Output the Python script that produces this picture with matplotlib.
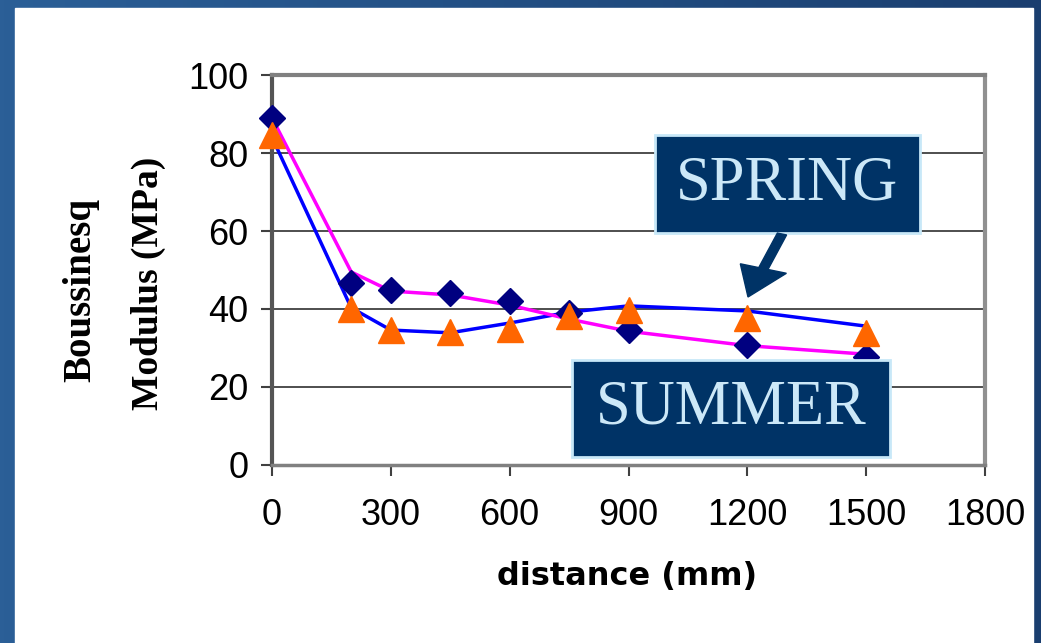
"""Boussinesq modulus vs distance, spring / summer."""
import matplotlib
matplotlib.use("Agg")
import matplotlib.pyplot as plt
import numpy as np
from matplotlib.patches import Rectangle

# points (markers)
distance = [0, 200, 300, 450, 600, 750, 900, 1200, 1500]
spring_pts = [89, 46.7, 44.9, 44.1, 42.0, 39.0, 34.7, 30.8, 27.8]
summer_pts = [84.5, 40.0, 34.6, 34.1, 34.9, 38.3, 39.8, 37.8, 33.8]
# trend lines
spring_line = [89, 49.5, 44.6, 43.6, 41.0, 37.4, 34.3, 30.6, 28.4]
summer_line = [84, 40.3, 34.6, 33.9, 36.4, 39.2, 40.8, 39.5, 35.6]

xticks = [0, 300, 600, 900, 1200, 1500, 1800]
yticks = [0, 20, 40, 60, 80, 100]

W, H = 1041, 643
fig = plt.figure(figsize=(W / 100, H / 100), dpi=100)

# blue slide frame with gradient
bg = fig.add_axes([0, 0, 1, 1], zorder=-10)
grad = np.linspace(0, 1, 256).reshape(1, -1)
cmap = matplotlib.colors.LinearSegmentedColormap.from_list("frame", ["#2b5f97", "#1a3e6f"])
bg.imshow(grad, aspect="auto", cmap=cmap, extent=[0, 1, 0, 1])
bg.add_patch(Rectangle((15 / W, 0), (1033 - 15) / W, (H - 8) / H, color="white"))
bg.set_xlim(0, 1)
bg.set_ylim(0, 1)
bg.axis("off")

ax = fig.add_axes([272 / W, (H - 465) / H, (985 - 272) / W, (465 - 75) / H])
ax.set_facecolor("white")

ax.plot(distance, summer_line, color="#0000ff", lw=2.5, zorder=3)
ax.plot(distance, spring_line, color="#ff00ff", lw=2.5, zorder=3)
ax.plot(distance, spring_pts, "D", ms=13.5, color="#000080", mec="#000080", zorder=4, clip_on=False)
ax.plot(distance, summer_pts, "^", ms=19, color="#ff6600", mec="#ff6600", zorder=5, clip_on=False)

ax.set_xlim(0, 1800)
ax.set_ylim(0, 100)
ax.set_xticks(xticks)
ax.set_yticks(yticks)
ax.tick_params(labelsize=26, length=8, width=1.5, color="#404040")
ax.tick_params(axis="x", pad=16)
ax.tick_params(axis="y", pad=9)
for lab in ax.get_xticklabels() + ax.get_yticklabels():
    lab.set_fontfamily("Liberation Sans")
ax.grid(axis="y", color="#303030", lw=1.2)
ax.set_axisbelow(True)
ax.spines["left"].set_color("#555555")
ax.spines["left"].set_linewidth(3)
ax.spines["bottom"].set_color("#808080")
ax.spines["bottom"].set_linewidth(2.5)
ax.spines["top"].set_color("#808080")
ax.spines["top"].set_linewidth(3)
ax.spines["right"].set_color("#909090")
ax.spines["right"].set_linewidth(3)

fig.text(627 / W, 1 - 577 / H, "distance (mm)", ha="center", va="center",
         fontsize=23, fontweight="bold", family="DejaVu Sans")
fig.text(81 / W, 1 - 290 / H, "Boussinesq", rotation=90, ha="center", va="center",
         fontsize=28, fontweight="bold", family="Liberation Serif")
fig.text(148 / W, 1 - 283 / H, "Modulus (MPa)", rotation=90, ha="center", va="center",
         fontsize=27, fontweight="bold", family="Liberation Serif")

# label boxes
for label, (x0, y0, x1, y1) in [("SPRING", (655, 135, 920, 233)),
                                ("SUMMER", (572, 360, 890, 457))]:
    fig.patches.append(Rectangle((x0 / W, 1 - y1 / H), (x1 - x0) / W, (y1 - y0) / H,
                                 transform=fig.transFigure, facecolor="#003366",
                                 edgecolor="#c8e8f8", lw=2, zorder=6))
    fig.text((x0 + x1) / 2 / W, 1 - (y0 + y1) / 2 / H, label, ha="center", va="center",
             fontsize=45, color="#cce8f8", family="Liberation Serif", zorder=7)

fig.patches.append(matplotlib.patches.FancyArrow(
    782 / W, 1 - 234 / H, (748 - 782) / W, -(297 - 234) / H,
    width=6 / H, head_width=30 / H, head_length=30 / H, length_includes_head=True,
    transform=fig.transFigure, color="#003366", zorder=6))

fig.savefig("out.png", dpi=100)
